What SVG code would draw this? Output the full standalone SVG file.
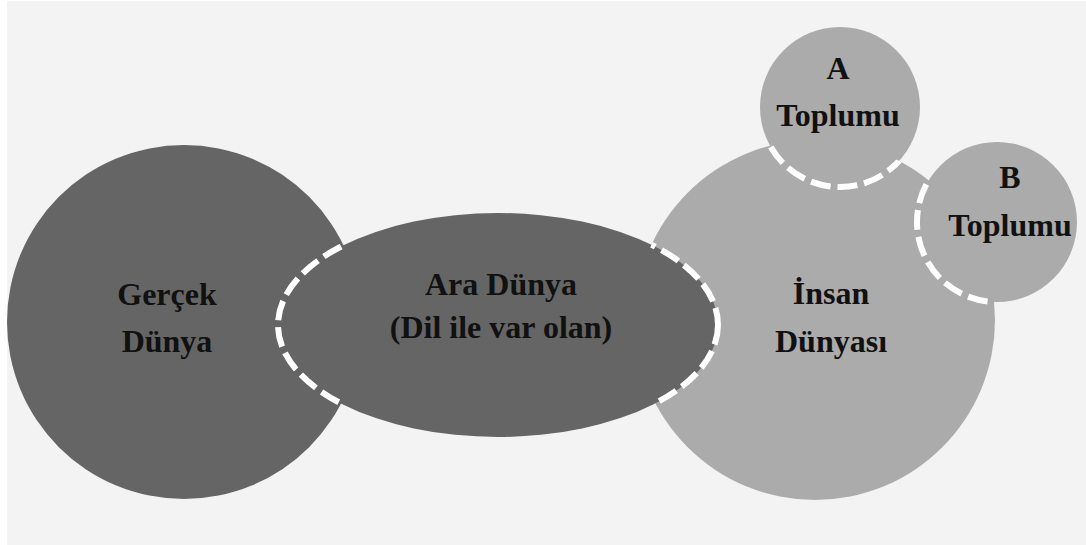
<svg xmlns="http://www.w3.org/2000/svg" width="1086" height="545" viewBox="0 0 1086 545">
<style>
.dark{fill:#656565}
.light{fill:#ababab}
.dash{fill:none;stroke:#ffffff;stroke-width:6;stroke-dasharray:20 7}
text{font-family:"Liberation Serif","Times New Roman",serif;font-weight:bold;font-size:32px;fill:#111111;text-anchor:middle}
</style>
<defs>
<clipPath id="clipGercek"><circle cx="184" cy="322" r="177"/></clipPath>
<clipPath id="clipInsan"><circle cx="815" cy="320" r="180"/></clipPath>
</defs>
<rect x="0" y="0" width="1086" height="545" fill="#ffffff"/>
<rect x="7" y="1" width="1079" height="544" fill="#f3f3f3"/>
<g id="gercek-dunya">
<circle class="dark" cx="184" cy="322" r="177"/>
<text x="167" y="305">Gerçek</text>
<text x="167" y="352">Dünya</text>
</g>
<g id="insan-dunyasi">
<circle class="light" cx="815" cy="320" r="180"/>
<text x="831" y="304">İnsan</text>
<text x="831" y="352">Dünyası</text>
</g>
<g id="a-toplumu">
<circle class="light" cx="840" cy="107" r="80"/>
<text x="838" y="79">A</text>
<text x="838" y="126">Toplumu</text>
</g>
<g id="b-toplumu">
<circle class="light" cx="997" cy="222" r="80"/>
<text x="1010" y="188">B</text>
<text x="1010" y="236">Toplumu</text>
</g>
<g id="ara-dunya">
<ellipse class="dark" cx="498" cy="325" rx="220" ry="112"/>
<text x="501" y="295">Ara Dünya</text>
<text x="501" y="338">(Dil ile var olan)</text>
</g>
<g id="connectors">
<ellipse class="dash" cx="498" cy="325" rx="220" ry="112" clip-path="url(#clipGercek)"/>
<ellipse class="dash" cx="498" cy="325" rx="220" ry="112" clip-path="url(#clipInsan)"/>
<circle class="dash" cx="840" cy="107" r="80" clip-path="url(#clipInsan)"/>
<circle class="dash" cx="997" cy="222" r="80" clip-path="url(#clipInsan)"/>
</g>
</svg>
